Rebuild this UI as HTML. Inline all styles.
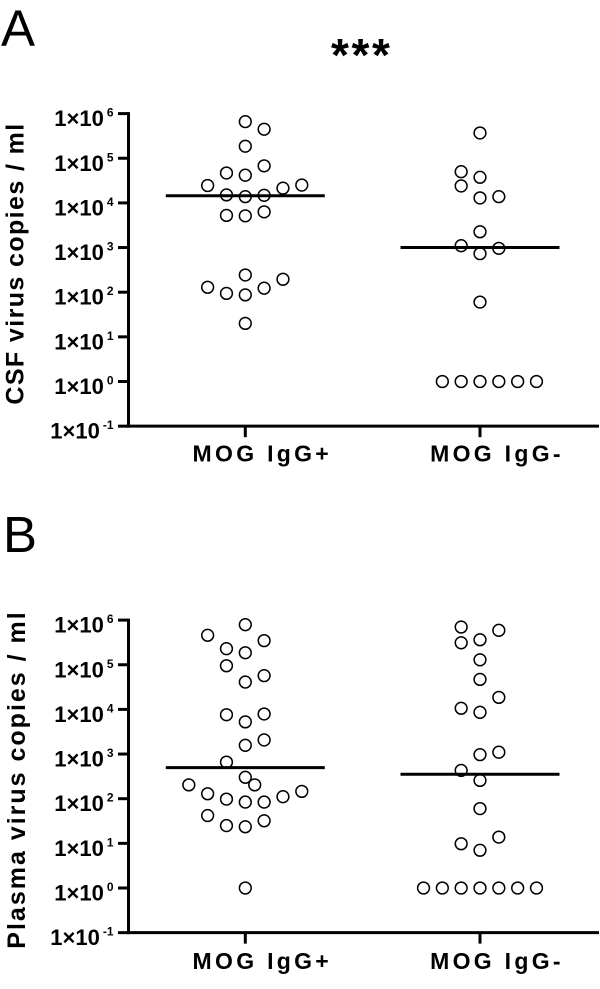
<!DOCTYPE html>
<html lang="en">
<head>
<meta charset="utf-8">
<title>MOG IgG virus copies</title>
<style>
html,body{margin:0;padding:0;background:#fff;}
svg{display:block;font-family:"Liberation Sans",Arial,sans-serif;}
</style>
</head>
<body>
<svg id="chart" xmlns="http://www.w3.org/2000/svg" width="600" height="989" viewBox="0 0 600 989">
<rect width="600" height="989" fill="#fff"/>
<text x="1" y="46" font-size="51" fill="#000">A</text>
<text x="3" y="552" font-size="51" fill="#000">B</text>
<text x="331" y="71" font-size="46" font-weight="bold" letter-spacing="2.6" fill="#000">***</text>
</svg>
<script>
const groupLabels = ["MOG IgG+", "MOG IgG-"];
const tickExponents = [6, 5, 4, 3, 2, 1, 0, -1];

const csfPosValues = [660000, 447000, 186000, 67600, 46800, 41700, 24500, 25100, 21400, 15100, 13800, 14800, 6300, 5250, 5130, 243, 195, 123, 129, 94, 87, 20];
const csfPosSlots = [0, 1, 0, 1, -1, 0, -2, 3, 2, -1, 0, 1, 1, -1, 0, 0, 2, 1, -2, -1, 0, 0];
const csfPosMedian = 14500;

const csfNegValues = [368000, 50000, 37500, 24000, 12900, 13800, 2260, 1100, 960, 730, 60, 1, 1, 1, 1, 1, 1];
const csfNegSlots = [0, -1, 0, -1, 0, 1, 0, -1, 1, 0, 0, -2, -1, 0, 1, 2, 3];
const csfNegMedian = 1000;

const plasmaPosValues = [790000, 457000, 347000, 229000, 186000, 95000, 57000, 41000, 7600, 7900, 5250, 2070, 1570, 660, 302, 204, 204, 146, 111, 129, 98, 84, 84, 42, 32, 25, 23.5, 1];
const plasmaPosSlots = [0, -2, 1, -1, 0, -1, 1, 0, -1, 1, 0, 1, 0, -1, 0, 0.5, -3, 3, 2, -2, -1, 0, 1, -2, 1, -1, 0, 0];
const plasmaPosMedian = 495;

const plasmaNegValues = [700000, 590000, 363000, 310000, 129000, 47000, 18600, 10600, 8600, 1100, 970, 430, 257, 60, 13.8, 9.8, 7, 1, 1, 1, 1, 1, 1, 1];
const plasmaNegSlots = [-1, 1, 0, -1, 0, 0, 1, -1, 0, 1, 0, -1, 0, 0, 1, -1, 0, -3, -2, -1, 0, 1, 2, 3];
const plasmaNegMedian = 352;

const svg = document.getElementById('chart');
const NS = 'http://www.w3.org/2000/svg';
const AXIS_X = 128.5, AXIS_END = 599, CENTER_POS = 245.3, CENTER_NEG = 480, SLOT_W = 18.83, DECADE = 44.65, MEDIAN_HALF = 79.5;

function make(tag, attrs, parent) {
  const el = document.createElementNS(NS, tag);
  for (const k in attrs) el.setAttribute(k, attrs[k]);
  parent.appendChild(el);
  return el;
}

function drawPanel(key, zeroY, title, titleX, titleCenterY, titleSpacing, labelBaseline, series) {
  const y = v => zeroY - DECADE * Math.log10(v);
  const g = make('g', {}, svg);
  
  

  const yAxis = make('line', {x1: AXIS_X, x2: AXIS_X, y1: y(1e6) - 1.5, y2: y(0.1) + 1.5, stroke: '#000', 'stroke-width': 3}, g);
  
  

  const xAxis = make('line', {x1: AXIS_X, x2: AXIS_END, y1: y(0.1), y2: y(0.1), stroke: '#000', 'stroke-width': 3}, g);
  
  

  tickExponents.forEach(exp => {
    const ty = y(Math.pow(10, exp));
    const tick = make('line', {x1: 118, x2: AXIS_X, y1: ty, y2: ty, stroke: '#000', 'stroke-width': 3}, g);
    
    

    const label = make('text', {x: 113.5, y: ty + 12.5, 'text-anchor': 'end', 'font-size': 22, 'font-weight': 'bold', fill: '#000'}, g);
    
    
    const base = make('tspan', {}, label);
    base.textContent = '1×10';
    const sup = make('tspan', {dx: 3, dy: -9.5, 'font-size': 12}, label);
    sup.textContent = String(exp);
  });

  const yTitle = make('text', {transform: 'translate(' + titleX + ',' + titleCenterY + ') rotate(-90)', 'text-anchor': 'middle', 'font-size': 25, 'font-weight': 'bold', 'letter-spacing': titleSpacing, fill: '#000'}, g);
  
  
  yTitle.textContent = title;

  series.forEach((s, i) => {
    const cx = i === 0 ? CENTER_POS : CENTER_NEG;

    const xt = make('line', {x1: cx, x2: cx, y1: y(0.1), y2: y(0.1) + 11, stroke: '#000', 'stroke-width': 3}, g);
    
    

    const xl = make('text', {x: cx + 17, y: labelBaseline, 'text-anchor': 'middle', 'font-size': 23, 'font-weight': 'bold', 'letter-spacing': 3.3, fill: '#000'}, g);
    
    
    xl.textContent = groupLabels[i];

    s.values.forEach((v, j) => {
      const c = make('circle', {cx: cx + s.slots[j] * SLOT_W, cy: y(v), r: 5.9, fill: '#fff', stroke: '#000', 'stroke-width': 1.5}, g);
      
      
    });

    const m = make('line', {x1: cx - MEDIAN_HALF, x2: cx + MEDIAN_HALF, y1: y(s.median), y2: y(s.median), stroke: '#000', 'stroke-width': 3}, g);
    
    
  });
}

drawPanel('csf', 381.5, 'CSF virus copies / ml', 23.5, 263.5, 1.4, 461.5, [
  {values: csfPosValues, slots: csfPosSlots, median: csfPosMedian},
  {values: csfNegValues, slots: csfNegSlots, median: csfNegMedian}
]);
drawPanel('plasma', 888, 'Plasma virus copies / ml', 25, 779.5, 2, 969, [
  {values: plasmaPosValues, slots: plasmaPosSlots, median: plasmaPosMedian},
  {values: plasmaNegValues, slots: plasmaNegSlots, median: plasmaNegMedian}
]);
</script>
</body>
</html>
